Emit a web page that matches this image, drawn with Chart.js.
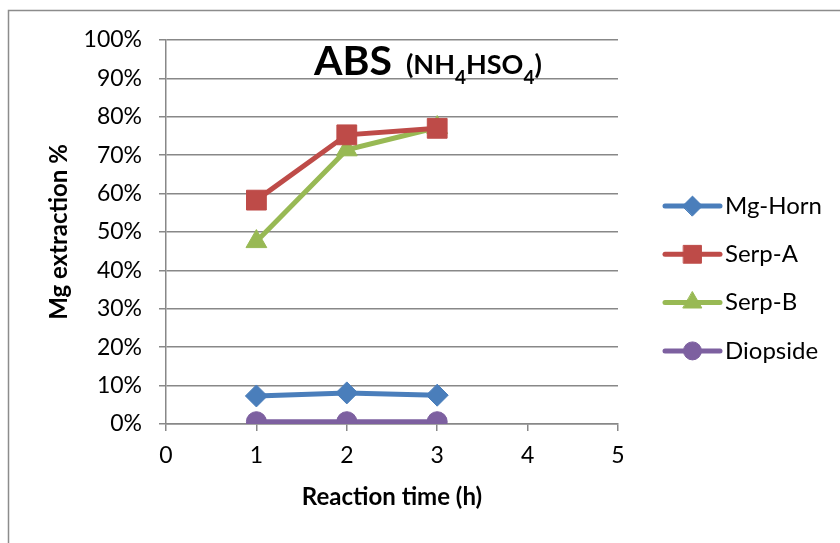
<!DOCTYPE html>
<html><head><meta charset="utf-8">
<script src="https://cdn.jsdelivr.net/npm/chart.js@4"></script>
<style>html,body{margin:0;padding:0;background:#fff;overflow:hidden}</style>
</head><body>
<canvas id="c" width="840" height="543" style="display:block;width:840px;height:543px"></canvas>
<script>
// ---- data ----
const reactionTimes = [1, 2, 3];               // h
const mgHorn   = [7.3, 8.1, 7.5];              // %
const serpA    = [58.3, 75.3, 77.0];
const serpB    = [47.5, 71.4, 77.2];
const diopside = [0.6, 0.6, 0.6];
const seriesNames = ['Mg-Horn', 'Serp-A', 'Serp-B', 'Diopside'];
const xTickValues = [0, 1, 2, 3, 4, 5];
const yTickValues = [0, 10, 20, 30, 40, 50, 60, 70, 80, 90, 100];

const FONT = 'Lato, "Open Sans", "Liberation Sans", sans-serif';
const GRID = '#888888';

const styles = [
  {color: '#4A7EBB', point: 'rectRot', r: 11},
  {color: '#BE4B48', point: 'rect', r: 14},
  {color: '#98B954', point: 'triangle', r: 12},
  {color: '#7D60A0', point: 'circle', r: 10}
];
const seriesValues = [mgHorn, serpA, serpB, diopside];

const datasets = seriesValues.map((vals, i) => ({
  label: seriesNames[i],
  data: reactionTimes.map((t, k) => ({x: t, y: vals[k]})),
  borderColor: styles[i].color,
  backgroundColor: styles[i].color,
  pointBackgroundColor: styles[i].color,
  pointBorderColor: styles[i].color,
  pointStyle: styles[i].point,
  pointRadius: styles[i].r,
  pointBorderWidth: 1,
  borderWidth: 5,
  tension: 0
}));

const frame = {
  id: 'frame',
  beforeDraw(chart) {
    const ctx = chart.ctx;
    ctx.save();
    ctx.fillStyle = '#fff';
    ctx.fillRect(0, 0, chart.width, chart.height);
    ctx.strokeStyle = '#8c8c8c';
    ctx.lineWidth = 1.5;
    ctx.beginPath();
    ctx.moveTo(8.5, chart.height + 5);
    ctx.lineTo(8.5, 10.5);
    ctx.lineTo(chart.width + 5, 10.5);
    ctx.stroke();
    ctx.restore();
  }
};

const titlePlugin = {
  id: 'titleText',
  afterDatasetsDraw(chart) {
    const ctx = chart.ctx;
    const a = chart.chartArea;
    ctx.save();
    ctx.fillStyle = '#000';
    ctx.textBaseline = 'alphabetic';
    ctx.textAlign = 'left';
    let x = a.left + 148;
    const base = a.top + 35;
    const parts = [
      ['ABS', 'bold 41px ' + FONT, 0, 0],
      ['(NH', 'bold 27px ' + FONT, -1, 14],
      ['4', 'bold 19px ' + FONT, 9, 0],
      ['HSO', 'bold 27px ' + FONT, -1, 0],
      ['4', 'bold 19px ' + FONT, 9, 0],
      [')', 'bold 27px ' + FONT, -1, 0]
    ];
    for (const [t, f, dy, gap] of parts) {
      ctx.font = f;
      x += gap;
      ctx.fillText(t, x, base + dy);
      x += ctx.measureText(t).width;
    }
    ctx.restore();
  }
};

const legendPlugin = {
  id: 'sideLegend',
  afterDraw(chart) {
    const ctx = chart.ctx;
    const a = chart.chartArea;
    ctx.save();
    chart.data.datasets.forEach((ds, i) => {
      const y = 206 + i * 48.3;
      const x0 = a.right + 47, x1 = a.right + 102;
      ctx.strokeStyle = ds.borderColor;
      ctx.lineWidth = 5;
      ctx.lineCap = 'round';
      ctx.beginPath();
      ctx.moveTo(x0, y);
      ctx.lineTo(x1, y);
      ctx.stroke();
      ctx.fillStyle = ds.pointBackgroundColor;
      ctx.strokeStyle = ds.pointBorderColor;
      ctx.lineWidth = 1;
      Chart.helpers.drawPoint(ctx, {pointStyle: ds.pointStyle, radius: ds.pointRadius * 0.9, borderWidth: 1, rotation: 0}, (x0 + x1) / 2, y);
      ctx.fillStyle = '#000';
      ctx.font = '24px ' + FONT;
      ctx.textBaseline = 'middle';
      ctx.textAlign = 'left';
      ctx.fillText(ds.label, x1 + 5, y);
    });
    ctx.restore();
  }
};

new Chart(document.getElementById('c'), {
  type: 'line',
  data: {datasets},
  plugins: [frame, titlePlugin, legendPlugin],
  options: {
    responsive: false,
    animation: false,
    layout: {padding: {left: 0, top: 40, right: 222, bottom: 0}},
    plugins: {legend: {display: false}, title: {display: false}, tooltip: {enabled: false}},
    scales: {
      x: {
        type: 'linear', min: 0, max: 5,
        afterFit(s) { s.height = 119; },
        afterBuildTicks(s) { s.ticks = xTickValues.map(v => ({value: v})); },
        ticks: {color: '#000', font: {family: FONT, size: 23}, padding: 11},
        grid: {drawOnChartArea: false, tickLength: 7, tickColor: GRID, lineWidth: 1.5},
        border: {color: GRID, width: 1.5},
        title: {display: true, text: 'Reaction time (h)', color: '#000',
                font: {family: FONT, size: 24, weight: 'bold'}, padding: {top: 0, bottom: 31}}
      },
      y: {
        min: 0, max: 100,
        afterFit(s) { s.width = 166; },
        afterBuildTicks(s) { s.ticks = yTickValues.map(v => ({value: v})); },
        ticks: {color: '#000', font: {family: FONT, size: 23}, padding: 17,
                callback: v => v + '%'},
        grid: {color: GRID, lineWidth: 1.5, tickLength: 7, tickColor: GRID},
        border: {color: GRID, width: 1.5},
        title: {display: true, text: 'Mg extraction %', color: '#000',
                font: {family: FONT, size: 24, weight: 'bold'}, padding: {top: 45, bottom: 0}}
      }
    }
  }
});
</script>
</body></html>
